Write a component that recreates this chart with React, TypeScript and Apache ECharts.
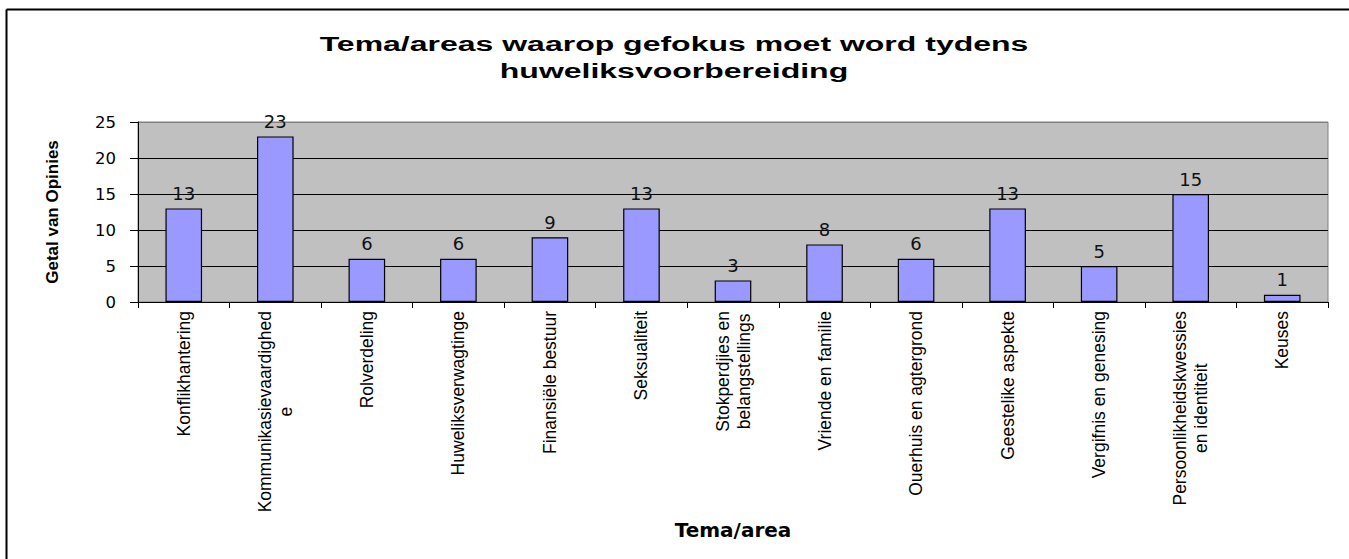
import React, { useEffect, useRef } from "react";
import * as echarts from "echarts";

const categories: string[] = [
  "Konflikhantering",
  "Kommunikasievaardighed\ne",
  "Rolverdeling",
  "Huweliksverwagtinge",
  "Finansiële bestuur",
  "Seksualiteit",
  "Stokperdjies en\nbelangstellings",
  "Vriende en familie",
  "Ouerhuis en agtergrond",
  "Geestelike aspekte",
  "Vergifnis en genesing",
  "Persoonlikheidskwessies\nen identiteit",
  "Keuses",
];
const values: number[] = [13, 23, 6, 6, 9, 13, 3, 8, 6, 13, 5, 15, 1];
const titleLines: string[] = ["Tema/areas waarop gefokus moet word tydens", "huweliksvoorbereiding"];
const yAxisName = "Getal van Opinies";
const xAxisName = "Tema/area";
const yMin = 0;
const yMax = 25;
const yInterval = 5;

export default function App() {
  const ref = useRef<HTMLDivElement>(null);
  useEffect(() => {
    if (!ref.current) return;
    const chart = echarts.init(ref.current, undefined, { renderer: "svg" });
    const option: any = {
      animation: false,
      backgroundColor: "#ffffff",
      graphic: [
        {
          type: "line",
          shape: { x1: 6.5, y1: 9.5, x2: 1349, y2: 9.5 },
          style: { stroke: "#000", lineWidth: 2 },
          z: 10,
        },
        {
          type: "line",
          shape: { x1: 6.5, y1: 9.5, x2: 6.5, y2: 559 },
          style: { stroke: "#000", lineWidth: 2 },
          z: 10,
        },
        {
          type: "text",
          x: 674,
          y: 31,
          scaleX: 1.6,
          style: {
            text: titleLines.join("\n"),
            align: "center",
            verticalAlign: "top",
            fontFamily: "'Liberation Sans', Arial, sans-serif",
            fontWeight: "bold",
            fontSize: 20,
            lineHeight: 27,
            fill: "#000",
          },
        },
      ],
      grid: {
        left: 138,
        top: 122,
        width: 1190,
        height: 180,
        show: true,
        backgroundColor: "#C0C0C0",
        borderColor: "#808080",
        borderWidth: 1,
        containLabel: false,
      },
      xAxis: {
        type: "category",
        data: categories,
        boundaryGap: true,
        axisLine: { show: true, lineStyle: { color: "#000", width: 1 } },
        axisTick: { show: true, interval: 0, length: 6, lineStyle: { color: "#000" } },
        splitLine: { show: false },
        axisLabel: {
          interval: 0,
          rotate: 90,
          margin: 9,
          color: "#000",
          fontFamily: "'Liberation Sans', Arial, sans-serif",
          fontSize: 17.5,
          formatter: (v: string) =>
            v
              .split("\n")
              .map((l) => "{c|" + l + "}")
              .join("\n"),
          rich: {
            c: {
              align: "center",
              fontFamily: "'Liberation Sans', Arial, sans-serif",
              fontSize: 17.5,
              color: "#000",
              lineHeight: 21,
            },
          },
        },
        name: xAxisName,
        nameLocation: "middle",
        nameGap: 218,
        nameTextStyle: {
          fontFamily: "'DejaVu Sans', sans-serif",
          fontWeight: "bold",
          fontSize: 20,
          color: "#000",
        },
      },
      yAxis: {
        type: "value",
        min: yMin,
        max: yMax,
        interval: yInterval,
        axisLine: { show: true, lineStyle: { color: "#000", width: 1 } },
        axisTick: { show: true, length: 8, lineStyle: { color: "#000" } },
        splitLine: {
          show: true,
          lineStyle: { color: ["#000", "#000", "#000", "#000", "#000", "#808080"], width: 1 },
        },
        axisLabel: {
          margin: 22,
          color: "#000",
          fontFamily: "'DejaVu Sans', sans-serif",
          fontSize: 16.5,
        },
        name: yAxisName,
        nameLocation: "middle",
        nameGap: 77,
        nameTextStyle: {
          fontFamily: "'Liberation Sans', Arial, sans-serif",
          fontWeight: "bold",
          fontSize: 17,
          color: "#000",
        },
      },
      series: [
        {
          type: "bar",
          data: values,
          barWidth: "40%",
          itemStyle: { color: "#9999FF", borderColor: "#000", borderWidth: 1.2 },
          label: {
            show: true,
            position: "top",
            distance: 6,
            color: "#111",
            fontFamily: "'DejaVu Sans', sans-serif",
            fontSize: 18,
          },
        },
      ],
    };
    chart.setOption(option);
    return () => chart.dispose();
  }, []);
  return (
    <div
      ref={ref}
      style={{ position: "absolute", left: 0, top: 0, width: 1349, height: 559 }}
    />
  );
}
